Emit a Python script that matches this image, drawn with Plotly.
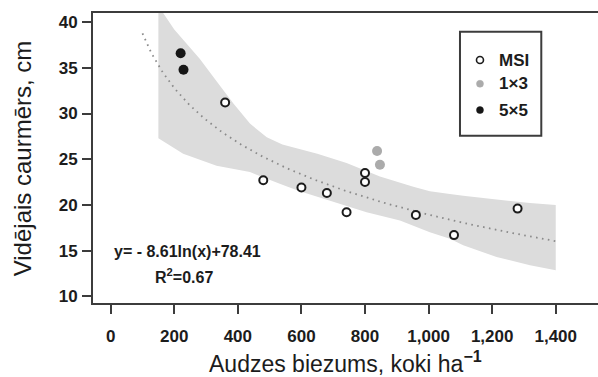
import numpy as np
import plotly.graph_objects as go

# Stand density (trees per ha) and mean diameter (cm) by planting scheme
msi_density = [360, 480, 600, 680, 742, 800, 800, 960, 1080, 1280]
msi_diameter = [31.2, 22.7, 21.9, 21.3, 19.2, 23.5, 22.5, 18.9, 16.7, 19.6]

s13_density = [838, 847]
s13_diameter = [25.9, 24.4]

s55_density = [220, 229]
s55_diameter = [36.6, 34.8]

series_names = ["MSI", "1×3", "5×5"]

# Logarithmic trend y = a*ln(x) + b and its interval band
fit_a = -8.61
fit_b = 78.41
fit_r2 = 0.67
fit_x_min, fit_x_max = 100, 1400

band_upper_x = [150, 165, 200, 240, 280, 323, 386, 438, 491, 540, 595, 650,
                742, 805, 847, 952, 1004, 1067, 1109, 1214, 1319, 1400]
band_upper_y = [42.0, 41.0, 39.2, 37.6, 36.0, 34.0, 31.1, 28.9, 27.4, 26.6, 26.1, 25.6,
                24.6, 23.7, 23.1, 22.0, 21.5, 21.2, 21.0, 20.6, 20.2, 20.0]
band_lower_x = [150, 228, 333, 438, 540, 595, 637, 732, 805, 910, 1004, 1067,
                1109, 1214, 1319, 1400]
band_lower_y = [27.3, 25.6, 24.3, 23.6, 22.2, 21.5, 21.0, 20.0, 19.2, 18.3, 17.0, 16.3,
                15.6, 14.3, 13.4, 12.85]

x_ticks = [0, 200, 400, 600, 800, 1000, 1200, 1400]
x_tick_text = ["0", "200", "400", "600", "800", "1,000", "1,200", "1,400"]
y_ticks = [10, 15, 20, 25, 30, 35, 40]

FONT = "Liberation Sans, Arial, sans-serif"
INK = "#1c1c1c"
AXIS = "#3c3c3c"
GREY_PT = "#ababab"
BLACK_PT = "#161616"

fig = go.Figure()

# shaded interval band
fig.add_trace(go.Scatter(
    x=band_upper_x + band_lower_x[::-1],
    y=band_upper_y + band_lower_y[::-1],
    fill="toself", fillcolor="#dcdcdc", line=dict(width=0),
    mode="lines", hoverinfo="skip", showlegend=False,
))

# trend curve
fx = np.linspace(fit_x_min, fit_x_max, 300)
fy = fit_a * np.log(fx) + fit_b
fig.add_trace(go.Scatter(
    x=fx, y=fy, mode="lines",
    line=dict(color="#8a8a8a", width=1.8, dash="1.6px,4.4px"),
    hoverinfo="skip", showlegend=False,
))

fig.add_trace(go.Scatter(
    x=msi_density, y=msi_diameter, mode="markers", name=series_names[0],
    showlegend=False,
    marker=dict(symbol="circle", size=8, color="white", line=dict(color=INK, width=2)),
))
fig.add_trace(go.Scatter(
    x=s13_density, y=s13_diameter, mode="markers", name=series_names[1],
    showlegend=False,
    marker=dict(symbol="circle", size=10, color=GREY_PT, line=dict(width=0)),
))
fig.add_trace(go.Scatter(
    x=s55_density, y=s55_diameter, mode="markers", name=series_names[2],
    showlegend=False,
    marker=dict(symbol="circle", size=10, color=BLACK_PT, line=dict(width=0)),
))

# boxed key in the upper right of the panel
key_left, key_right, key_top, key_bottom = 0.7267, 0.8877, 0.9355, 0.5765
key_rows = [0.8378, 0.7560, 0.6652]
key_sym_x, key_text_x = 0.7663, 0.7994
key_styles = [
    dict(fillcolor="white", line=dict(color=INK, width=1.6)),
    dict(fillcolor=GREY_PT, line=dict(color=GREY_PT, width=0.5)),
    dict(fillcolor=BLACK_PT, line=dict(color=BLACK_PT, width=0.5)),
]
fig.add_shape(type="rect", xref="paper", yref="paper",
              x0=key_left, x1=key_right, y0=key_bottom, y1=key_top,
              line=dict(color=AXIS, width=2), fillcolor="white", layer="above")
for name, row, style in zip(series_names, key_rows, key_styles):
    fig.add_shape(type="circle", xref="paper", yref="paper",
                  xsizemode="pixel", ysizemode="pixel",
                  xanchor=key_sym_x, yanchor=row,
                  x0=-3.5, x1=3.5, y0=-3.5, y1=3.5, layer="above", **style)
    fig.add_annotation(x=key_text_x, y=row, xref="paper", yref="paper",
                       text=name, showarrow=False, xanchor="left", yanchor="middle",
                       font=dict(family=FONT, size=17, color=INK, weight="bold"))

# equation and R² labels
fig.add_annotation(
    x=242, y=14.93, xref="x", yref="y", showarrow=False,
    text=f"y= - {abs(fit_a):.2f}ln(x)+{fit_b:.2f}",
    font=dict(family=FONT, size=16, color=INK, weight="bold"),
    xanchor="center", yanchor="middle",
)
fig.add_annotation(
    x=232, y=12.2, xref="x", yref="y", showarrow=False,
    text=f"R<sup>2</sup>={fit_r2:.2f}",
    font=dict(family=FONT, size=16, color=INK, weight="bold"),
    xanchor="center", yanchor="middle",
)

# axis titles
fig.add_annotation(
    x=0.5, y=-0.205, xref="paper", yref="paper", showarrow=False,
    text="Audzes biezums, koki ha<sup><b>−1</b></sup>",
    font=dict(family=FONT, size=23, color=INK),
    xanchor="center", yanchor="middle",
)
fig.add_annotation(
    x=-0.14, y=0.5, xref="paper", yref="paper", showarrow=False,
    text="Vidējais caurmērs, cm", textangle=-90,
    font=dict(family=FONT, size=24, color=INK),
    xanchor="center", yanchor="middle",
)

fig.update_layout(
    width=598, height=377,
    margin=dict(l=93, r=0, t=13, b=74),
    paper_bgcolor="white", plot_bgcolor="white",
    showlegend=False,
    font=dict(family=FONT, color=INK),
)
fig.update_xaxes(
    range=[-55.7, 1533], showgrid=False, zeroline=False,
    showline=True, mirror=True, linecolor=AXIS, linewidth=2,
    ticks="outside", ticklen=9, tickwidth=2, tickcolor=AXIS,
    tickvals=x_ticks, ticktext=x_tick_text, ticklabelstandoff=8,
    tickfont=dict(family=FONT, size=17, color=INK, weight="bold"),
)
fig.update_yaxes(
    range=[9.27, 41.0], showgrid=False, zeroline=False,
    showline=True, mirror=False, linecolor=AXIS, linewidth=2,
    ticks="outside", ticklen=9, tickwidth=2, tickcolor=AXIS,
    tickvals=y_ticks, ticklabelstandoff=1,
    tickfont=dict(family=FONT, size=17, color=INK, weight="bold"),
)

fig.write_html("out.html")
